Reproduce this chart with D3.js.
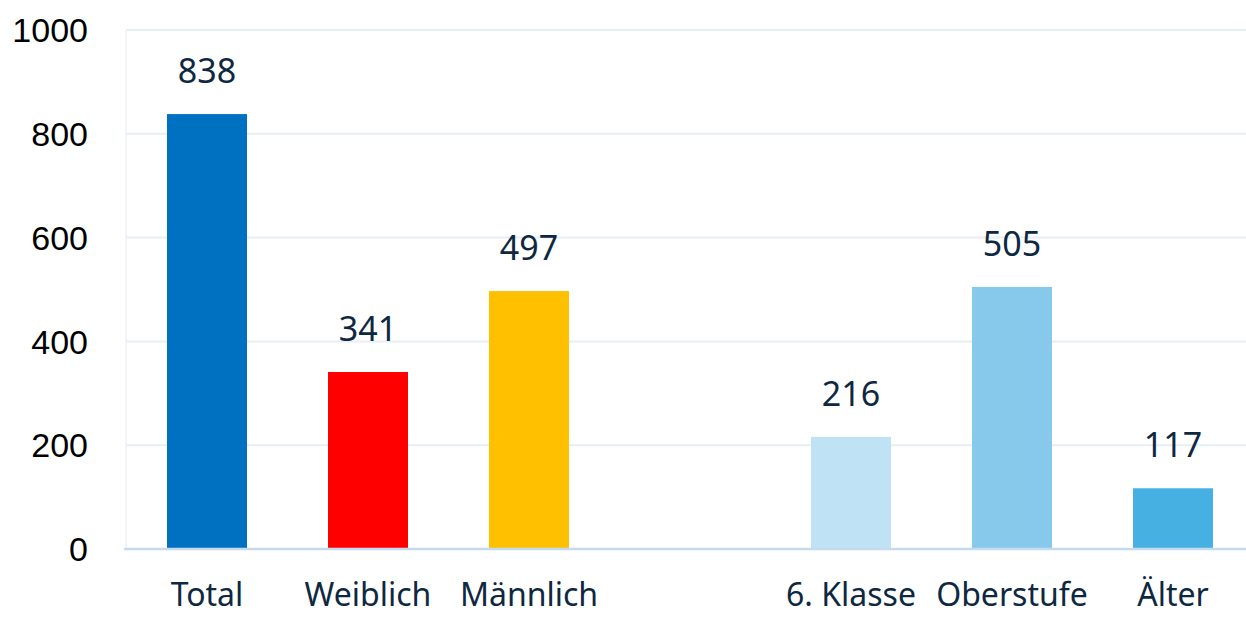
<!DOCTYPE html>
<html>
<head>
<meta charset="utf-8">
<script src="https://cdn.jsdelivr.net/npm/d3@7"></script>
<style>
  body { margin: 0; background: #fff; }
</style>
</head>
<body>
<div id="chart"></div>
<script>
// Data
const categories = ['Total', 'Weiblich', 'Männlich', '', '6. Klasse', 'Oberstufe', 'Älter'];
const values = [838, 341, 497, null, 216, 505, 117];
const barColors = ['#0070c0', '#ff0000', '#ffc000', null, '#c0e2f5', '#86c9ea', '#45b0e1'];
const yTicks = [0, 200, 400, 600, 800, 1000];

const width = 1246;
const height = 617;
const margins = { top: 30, right: 0, bottom: 68, left: 126 };

const svg = d3.select('#chart')
    .append('svg')
    .attr('width', width)
    .attr('height', height);

// Scales
const pi = 81 / 161;
const x = d3.scaleBand()
    .domain(categories.map((c, i) => i))
    .range([126.5, 1253.5])
    .paddingInner(pi)
    .paddingOuter(pi / 2);

const y = d3.scaleLinear()
    .domain([0, 1000])
    .range([height - margins.bottom, margins.top]);

// Gridlines
svg.append('g')
    .selectAll('line')
    .data(yTicks.filter(t => t > 0))
    .enter().append('line')
    .attr('x1', margins.left)
    .attr('x2', width)
    .attr('y1', d => y(d))
    .attr('y2', d => y(d))
    .style('stroke', '#e6eef6')
    .style('stroke-width', 2);

// Faint vertical axis line
svg.append('line')
    .attr('x1', margins.left)
    .attr('x2', margins.left)
    .attr('y1', y(1000))
    .attr('y2', y(0))
    .style('stroke', '#eef2f7')
    .style('stroke-width', 1.5);

// Y tick labels
svg.append('g')
    .selectAll('text')
    .data(yTicks)
    .enter().append('text')
    .attr('x', 88)
    .attr('y', d => y(d))
    .attr('dy', '0.36em')
    .style('text-anchor', 'end')
    .style('font-family', 'Liberation Sans, Arial, sans-serif')
    .style('font-size', '34px')
    .style('fill', '#000')
    .text(d => d);

const data = categories.map((c, i) => ({ i, c, v: values[i], color: barColors[i] }))
    .filter(d => d.v !== null);

// Bars
svg.append('g')
    .selectAll('rect')
    .data(data)
    .enter().append('rect')
    .attr('x', d => x(d.i))
    .attr('width', x.bandwidth())
    .attr('y', d => y(d.v))
    .attr('height', d => y(0) - y(d.v))
    .style('fill', d => d.color);

// Baseline
svg.append('line')
    .attr('x1', margins.left - 2)
    .attr('x2', width)
    .attr('y1', y(0))
    .attr('y2', y(0))
    .style('stroke', '#c4dbef')
    .style('stroke-width', 2.5);

// Value labels
svg.append('g')
    .selectAll('text')
    .data(data)
    .enter().append('text')
    .attr('x', d => x(d.i) + x.bandwidth() / 2)
    .attr('y', d => y(d.v) - 31)
    .style('text-anchor', 'middle')
    .style('font-family', 'Noto Sans, sans-serif')
    .style('font-size', '34px')
    .style('fill', '#0e2841')
    .text(d => d.v);

// Category labels
svg.append('g')
    .selectAll('text')
    .data(data)
    .enter().append('text')
    .attr('x', d => x(d.i) + x.bandwidth() / 2)
    .attr('y', 606)
    .style('text-anchor', 'middle')
    .style('font-family', 'Noto Sans, sans-serif')
    .style('font-size', '32px')
    .style('fill', '#0e2841')
    .text(d => d.c);
</script>
</body>
</html>
